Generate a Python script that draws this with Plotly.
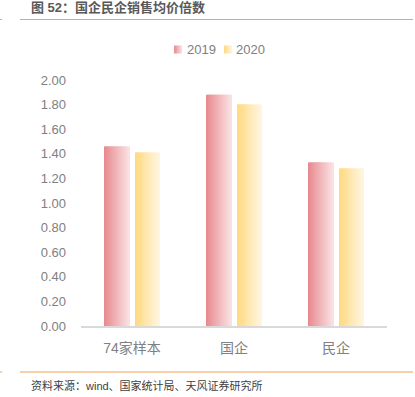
import plotly.graph_objects as go

categories = ["74家样本", "国企", "民企"]
series_names = ["2019", "2020"]
values_2019 = [1.46, 1.88, 1.33]
values_2020 = [1.41, 1.80, 1.28]
y_tick_vals = [0, 0.2, 0.4, 0.6, 0.8, 1.0, 1.2, 1.4, 1.6, 1.8, 2.0]

FONT = "Liberation Sans, Noto Sans CJK SC, sans-serif"

# gradient endpoints (left -> right)
grad = {
    "2019": ((232, 136, 142), (249, 226, 228)),
    "2020": ((255, 217, 125), (255, 245, 224)),
}

bar_w = 0.245
gap_half = 0.0294
N = 25

fig = go.Figure()

def lerp(a, b, t):
    return tuple(int(round(a[i] + (b[i] - a[i]) * t)) for i in range(3))

def rgb(c):
    return "rgb(%d,%d,%d)" % c

for name, vals, start in [("2019", values_2019, -gap_half - bar_w), ("2020", values_2020, gap_half)]:
    c0, c1 = grad[name]
    sw = bar_w / N
    for k in range(N):
        col = lerp(c0, c1, (k + 0.5) / N)
        fig.add_trace(go.Bar(
            x=categories, y=vals, width=sw * 1.08, offset=start + k * sw,
            marker=dict(color=rgb(col), line=dict(width=0)),
            showlegend=False, hoverinfo="skip"))

fig.update_layout(
    width=415, height=397,
    barmode="overlay",
    paper_bgcolor="white", plot_bgcolor="white",
    margin=dict(l=81, r=28, t=80, b=71),
    font=dict(family=FONT, color="#808080"),
    showlegend=False,
    xaxis=dict(type="category", showgrid=False, showline=True, linecolor="#d9d9d9",
               linewidth=1.5, ticks="", tickfont=dict(size=14, color="#808080"),
               ticklabelstandoff=8, zeroline=False),
    yaxis=dict(range=[0, 2.0], tickvals=y_tick_vals, tickformat=".2f", showgrid=False,
               showline=False, zeroline=False, ticks="",
               tickfont=dict(size=13, color="#808080"), ticklabelstandoff=14),
)

def px_x(p):
    return (p - 81) / 306

def px_y(p):
    return (326 - p) / 246

# manual legend
legend_items = [("2019", 174, 185), ("2020", 224, 234)]
for (name, sx, tx) in legend_items:
    c0, c1 = grad[name]
    M = 8
    for k in range(M):
        col = lerp(c0, c1, (k + 0.5) / M)
        fig.add_shape(type="rect", xref="paper", yref="paper",
                      x0=px_x(sx + k), x1=px_x(sx + k + 1.1), y0=px_y(53.5), y1=px_y(45.5),
                      line=dict(width=0), fillcolor=rgb(col))
    fig.add_annotation(text=name, xref="paper", yref="paper", x=px_x(tx), y=px_y(49.5),
                       xanchor="left", yanchor="middle", showarrow=False,
                       font=dict(size=13, color="#808080", family=FONT))

# Title and decorations
fig.add_annotation(text="<b>图 52：国企民企销售均价倍数</b>", xref="paper", yref="paper",
                   x=px_x(29), y=px_y(7.5), xanchor="left", yanchor="middle",
                   showarrow=False, font=dict(size=13, color="#595959", family=FONT))
fig.add_annotation(text="资料来源：wind、国家统计局、天风证券研究所", xref="paper", yref="paper",
                   x=px_x(29), y=px_y(385), xanchor="left", yanchor="middle",
                   showarrow=False, font=dict(size=11, color="#404040", family=FONT))

for yy in (19.5, 372):
    fig.add_shape(type="line", xref="paper", yref="paper",
                  x0=px_x(20), x1=px_x(413), y0=px_y(yy), y1=px_y(yy),
                  line=dict(color="#f4a15a", width=1.2))
    fig.add_shape(type="line", xref="paper", yref="paper",
                  x0=px_x(0), x1=px_x(2), y0=px_y(yy), y1=px_y(yy),
                  line=dict(color="#f4a15a", width=1.2))

fig.write_html("out.html", config={"displayModeBar": False},
               post_script="document.body.style.margin='0';document.body.style.padding='0';")
